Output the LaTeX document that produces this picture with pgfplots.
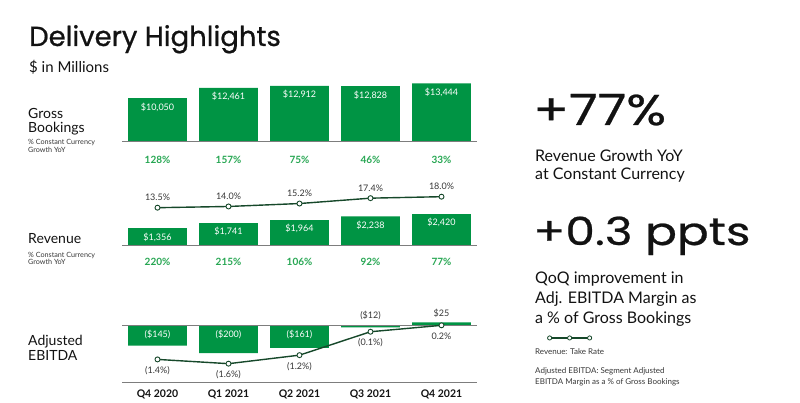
\documentclass[border=0pt]{standalone}
\usepackage{fontspec}
\setmainfont{Lato}
\newfontfamily\bigfont[FakeStretch=1.22, FakeBold=0.6]{Poppins}
\newfontfamily\titlefont[FakeBold=0.8]{Poppins}
\usepackage{pgfplots}
\pgfplotsset{compat=1.18}
\definecolor{barG}{RGB}{0,148,68}
\definecolor{pctG}{RGB}{38,166,82}
\definecolor{lineG}{RGB}{22,72,42}
\definecolor{baseL}{RGB}{125,125,125}
\definecolor{txt}{RGB}{18,18,18}
\definecolor{lbl}{RGB}{55,55,55}
\newcommand\fs[1]{\fontsize{#1}{#1}\selectfont}
\pgfplotsset{panel/.style={scale only axis, width=355pt, xmin=-0.5, xmax=4.5, clip=false}}
\begin{document}
\begin{tikzpicture}
\useasboundingbox (0pt,0pt) rectangle (800pt,403pt);
% ---------- texts on the left ----------
\node[anchor=base west, inner sep=0, txt, font=\titlefont\fs{27.5}] at (29pt,357pt) {Delivery Highlights};
\node[anchor=base west, inner sep=0, txt, font=\fs{15}] at (29pt,330.3pt) {\$ in Millions};
\node[anchor=base west, inner sep=0, txt, font=\fs{14}] at (28pt,284.7pt) {Gross};
\node[anchor=base west, inner sep=0, txt, font=\fs{14}] at (28pt,270.7pt) {Bookings};
\node[anchor=base west, inner sep=0, lbl, font=\fs{7.2}] at (28pt,258.4pt) {\% Constant Currency};
\node[anchor=base west, inner sep=0, lbl, font=\fs{7.2}] at (28pt,250pt) {Growth YoY};
\node[anchor=base west, inner sep=0, txt, font=\fs{14}] at (28pt,159pt) {Revenue};
\node[anchor=base west, inner sep=0, lbl, font=\fs{7.2}] at (28pt,145.7pt) {\% Constant Currency};
\node[anchor=base west, inner sep=0, lbl, font=\fs{7.2}] at (28pt,138.7pt) {Growth YoY};
\node[anchor=base west, inner sep=0, txt, font=\fs{14}] at (28pt,57pt) {Adjusted};
\node[anchor=base west, inner sep=0, txt, font=\fs{14}] at (28pt,42pt) {EBITDA};
% ---------- texts on the right ----------
\node[anchor=base west, inner sep=0, txt, font=\bigfont\fs{43}] at (533pt,278pt) {+77\%};
\node[anchor=base west, inner sep=0, txt, font=\fs{16}] at (535pt,241.3pt) {Revenue Growth YoY};
\node[anchor=base west, inner sep=0, txt, font=\fs{16}] at (535pt,223pt) {at Constant Currency};
\node[anchor=base west, inner sep=0, txt, font=\bigfont\fs{38.6}] at (533pt,158pt) {+0.3 ppts};
\node[anchor=base west, inner sep=0, txt, font=\fs{16}] at (535pt,119pt) {QoQ improvement in};
\node[anchor=base west, inner sep=0, txt, font=\fs{16}] at (535pt,99pt) {Adj. EBITDA Margin as};
\node[anchor=base west, inner sep=0, txt, font=\fs{16}] at (535pt,79.7pt) {a \% of Gross Bookings};
\node[anchor=base west, inner sep=0, lbl, font=\fs{8}] at (535pt,48pt) {Revenue: Take Rate};
\node[anchor=base west, inner sep=0, lbl, font=\fs{8}] at (535pt,29.7pt) {Adjusted EBITDA: Segment Adjusted};
\node[anchor=base west, inner sep=0, lbl, font=\fs{8}] at (535pt,18pt) {EBITDA Margin as a \% of Gross Bookings};

% ---------- Gross Bookings ----------
\begin{axis}[panel, at={(122pt,261.3pt)}, anchor=south west, height=60.6pt,
  ymin=0, ymax=14000, hide axis]
\addplot[ybar, bar width=0.83, fill=barG, draw=none, point meta=explicit symbolic,
  nodes near coords, nodes near coords align={below},
  every node near coord/.append style={white, font=\fs{9}, yshift=-1pt}]
  table[meta=lab] {
x y lab
0 10050 {\$10,050}
1 12461 {\$12,461}
2 12912 {\$12,912}
3 12828 {\$12,828}
4 13444 {\$13,444}
};
\draw[baseL, line width=1pt] (axis cs:-0.5,0) -- (axis cs:4.5,0);
\node[pctG, font=\bfseries\fs{10}] at (axis cs:0,-4226) {128\%};
\node[pctG, font=\bfseries\fs{10}] at (axis cs:1,-4226) {157\%};
\node[pctG, font=\bfseries\fs{10}] at (axis cs:2,-4226) {75\%};
\node[pctG, font=\bfseries\fs{10}] at (axis cs:3,-4226) {46\%};
\node[pctG, font=\bfseries\fs{10}] at (axis cs:4,-4226) {33\%};
\end{axis}

% ---------- Revenue ----------
\begin{axis}[panel, at={(122pt,157pt)}, anchor=south west, height=36.96pt,
  ymin=0, ymax=2800, hide axis]
\addplot[ybar, bar width=0.83, fill=barG, draw=none, point meta=explicit symbolic,
  nodes near coords, nodes near coords align={below},
  every node near coord/.append style={white, font=\fs{9}, yshift=-1pt}]
  table[meta=lab] {
x y lab
0 1356 {\$1,356}
1 1741 {\$1,741}
2 1964 {\$1,964}
3 2238 {\$2,238}
4 2420 {\$2,420}
};
\draw[baseL, line width=1pt] (axis cs:-0.5,0) -- (axis cs:4.5,0);
\node[pctG, font=\bfseries\fs{10}] at (axis cs:0,-1189) {220\%};
\node[pctG, font=\bfseries\fs{10}] at (axis cs:1,-1189) {215\%};
\node[pctG, font=\bfseries\fs{10}] at (axis cs:2,-1189) {106\%};
\node[pctG, font=\bfseries\fs{10}] at (axis cs:3,-1189) {92\%};
\node[pctG, font=\bfseries\fs{10}] at (axis cs:4,-1189) {77\%};
\end{axis}

% ---------- Take rate line ----------
\begin{axis}[panel, at={(122pt,186.75pt)}, anchor=south west, height=24.44pt,
  ymin=10, ymax=20, hide axis,
  legend style={at={(1.197,-4.98)}, anchor=west, draw=none, fill=none, inner sep=0pt,
    row sep=0pt, nodes={inner sep=0pt}},
  legend image code/.code={
    \draw[lineG, line width=1.2pt] (0pt,0pt) -- (40pt,0pt);
    \draw[lineG, fill=white, line width=0.8pt] (0pt,0pt) circle (2.1pt) (20pt,0pt) circle (2.1pt) (40pt,0pt) circle (2.1pt);}]
\addplot[lineG, line width=1.4pt, mark=*, mark size=2.5pt,
  mark options={fill=white, draw=lineG, line width=0.9pt},
  point meta=explicit symbolic, nodes near coords, nodes near coords align={above},
  every node near coord/.append style={lbl, font=\fs{9}, yshift=3pt}]
  table[meta=lab] {
x y lab
0 13.5 13.5\%
1 14.0 14.0\%
2 15.2 15.2\%
3 17.4 17.4\%
4 18.0 18.0\%
};
\addlegendentry{}
\end{axis}

% ---------- Adjusted EBITDA ----------
\begin{axis}[panel, at={(122pt,20.3pt)}, anchor=south west, height=70.7pt,
  ymin=-416, ymax=100,
  axis x line=bottom, axis y line=none, x axis line style={-, baseL, line width=1pt},
  xtick={0,1,2,3,4}, xticklabels={Q4 2020,Q1 2021,Q2 2021,Q3 2021,Q4 2021},
  major tick length=0pt, ytick=\empty,
  xticklabel style={font=\bfseries\fs{10.5}, txt, yshift=-4pt}]
\addplot[ybar, bar width=0.83, fill=barG, draw=none] table {
x y
0 -145
1 -200
2 -161
3 -12
4 25
};
\draw[baseL, line width=1pt] (axis cs:-0.5,0) -- (axis cs:4.5,0);
\node[anchor=north, white, font=\fs{9}, yshift=-1pt] at (axis cs:0,0) {(\$145)};
\node[anchor=north, white, font=\fs{9}, yshift=-1pt] at (axis cs:1,0) {(\$200)};
\node[anchor=north, white, font=\fs{9}, yshift=-1pt] at (axis cs:2,0) {(\$161)};
\node[anchor=south, lbl, font=\fs{9}, yshift=2.5pt] at (axis cs:3,0) {(\$12)};
\node[anchor=south, lbl, font=\fs{9}, yshift=1pt] at (axis cs:4,25) {\$25};
\end{axis}

% ---------- EBITDA margin line ----------
\begin{axis}[panel, at={(122pt,30.8pt)}, anchor=south west, height=53.25pt,
  ymin=-2, ymax=0.5, hide axis]
\addplot[lineG, line width=1.4pt, mark=*, mark size=2.5pt,
  mark options={fill=white, draw=lineG, line width=0.9pt},
  point meta=explicit symbolic, nodes near coords, nodes near coords align={below},
  every node near coord/.append style={lbl, font=\fs{9}, yshift=-3.4pt}]
  table[meta=lab] {
x y lab
0 -1.4 (1.4\%)
1 -1.6 (1.6\%)
2 -1.2 (1.2\%)
3 -0.1 (0.1\%)
4 0.2 0.2\%
};
\end{axis}
\end{tikzpicture}
\end{document}
